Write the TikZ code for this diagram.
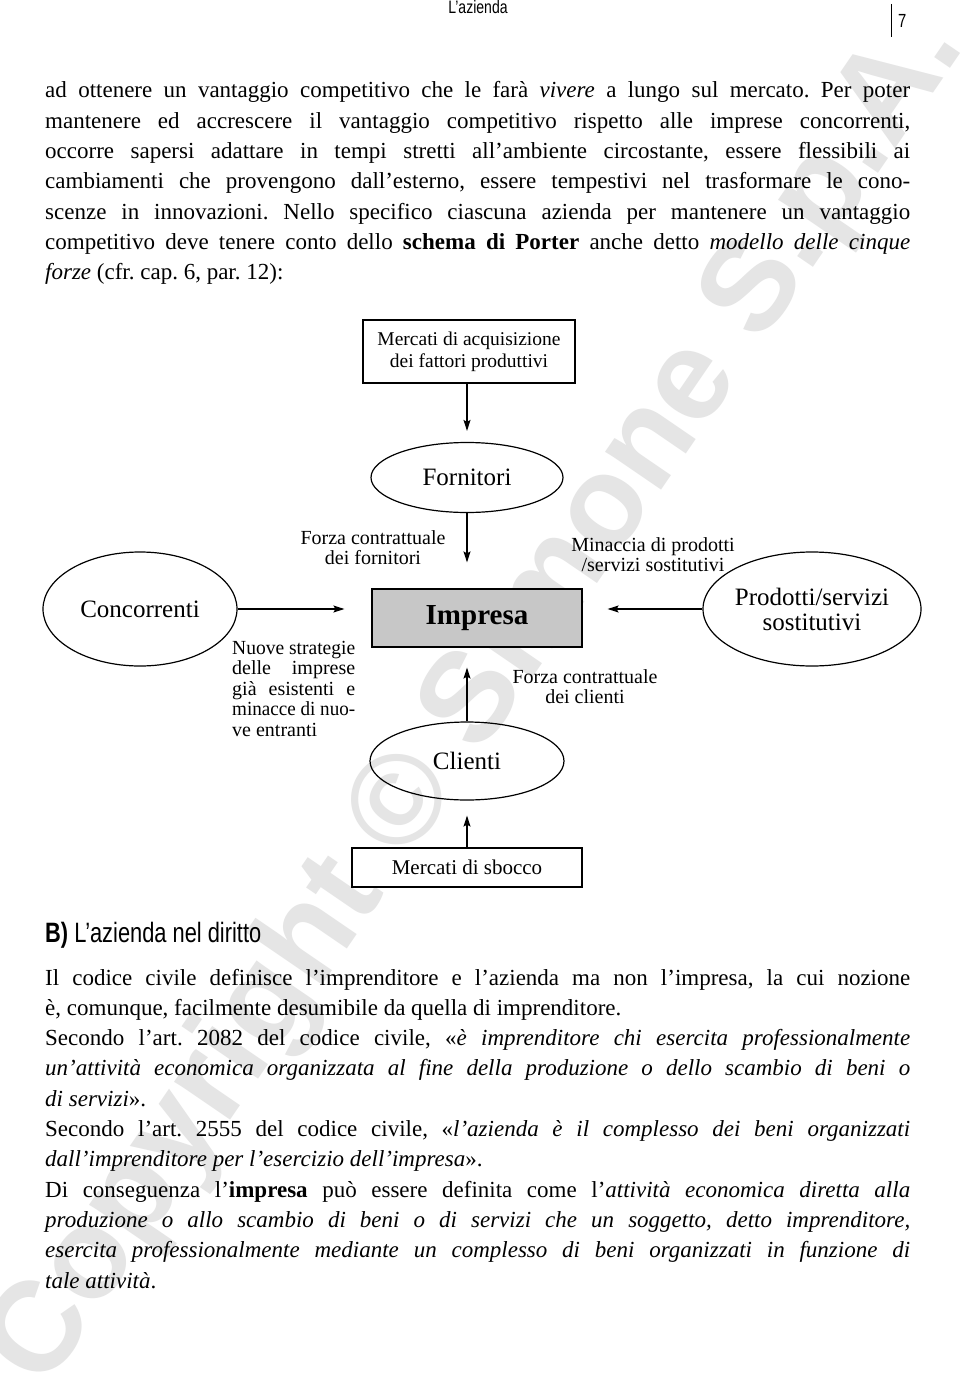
\documentclass[tikz,border=0pt]{standalone}
\usepackage{fontspec}
\usepackage{graphicx}
\setmainfont{Liberation Serif}
\newfontfamily\hdrfont[FakeStretch=0.78]{Liberation Sans}
\newfontfamily\wmfont{Liberation Sans}
\usetikzlibrary{shapes.geometric,arrows.meta}
\newsavebox\jbox
\newcommand\jline[2][865pt]{\sbox\jbox{#2}\ifdim\wd\jbox>#1\relax\resizebox{#1}{\height}{\usebox\jbox}\else\makebox[#1][s]{#2}\fi}
\frenchspacing
\begin{document}
\frenchspacing
\begin{tikzpicture}[x=1pt,y=-1pt,
  body/.style={font=\frenchspacing\fontsize{23}{28}\selectfont, inner sep=0pt, anchor=base west},
  boxnode/.style={draw, line width=1.2pt, rectangle, inner sep=0pt, align=center},
  ell/.style={draw, line width=1.2pt, ellipse, inner sep=0pt, align=center, font=\fontsize{25}{25}\selectfont},
  lbl/.style={inner sep=0pt, align=center, font=\fontsize{20}{20}\selectfont},
  arr/.style={line width=1.2pt, -{Stealth[length=11pt,width=7pt,inset=2pt]}}
]
\useasboundingbox (0,0) rectangle (960,1394);
\fill[white] (0,0) rectangle (960,1394);
% watermark
\node[rotate=55.6, text=black!10, font=\wmfont\bfseries\fontsize{128}{128}\selectfont, inner sep=0pt] (wm) at (478,700) {Copyright © Simone S.p.A.};
% header
\node[inner sep=0pt, anchor=base, font=\hdrfont\fontsize{18}{18}\selectfont] (hdr) at (478,14) {L’azienda};
\coordinate (bartop) at (891,4);
\coordinate (barbot) at (891,37);
\draw[line width=1pt] (bartop) -- (barbot);
\node[inner sep=0pt, anchor=base west, font=\hdrfont\fontsize{19}{19}\selectfont] (pg) at (898,28) {7};
% upper paragraph
\node[body] (a1) at (45,98) {\jline{ad ottenere un vantaggio competitivo che le farà \textit{vivere} a lungo sul mercato. Per poter}};
\node[body] (a2) at (45,128.3) {\jline{mantenere ed accrescere il vantaggio competitivo rispetto alle imprese concorrenti,}};
\node[body] (a3) at (45,158.6) {\jline{occorre sapersi adattare in tempi stretti all’ambiente circostante, essere flessibili ai}};
\node[body] (a4) at (45,188.9) {\jline{cambiamenti che provengono dall’esterno, essere tempestivi nel trasformare le cono-}};
\node[body] (a5) at (45,219.2) {\jline{scenze in innovazioni. Nello specifico ciascuna azienda per mantenere un vantaggio}};
\node[body] (a6) at (45,249.5) {\jline{competitivo deve tenere conto dello \textbf{schema di Porter} anche detto \textit{modello delle cinque}}};
\node[body] (a7) at (45,279.8) {\textit{forze} (cfr. cap. 6, par. 12):};
% diagram
\node[boxnode, minimum width=212pt, minimum height=63pt, font=\fontsize{19.5}{22}\selectfont] (macq) at (469,351.5) {Mercati di acquisizione\\dei fattori produttivi};
\node[ell, minimum width=192pt, minimum height=70pt] (forn) at (467,477.5) {Fornitori};
\node[boxnode, fill=black!22, minimum width=210pt, minimum height=58pt, font=\bfseries\fontsize{29}{29}\selectfont] (imp) at (477,618) {Impresa};
\node[ell, minimum width=194pt, minimum height=114pt] (conc) at (140,609) {Concorrenti};
\node[ell, minimum width=194pt, minimum height=114pt] (prod) at (812,609) {Prodotti/servizi\\sostitutivi};
\node[ell, minimum width=194pt, minimum height=78pt] (cli) at (467,761) {Clienti};
\node[boxnode, minimum width=230pt, minimum height=39pt, font=\fontsize{21}{21}\selectfont] (msb) at (467,867.5) {Mercati di sbocco};
% arrows
\draw[arr, shorten >=11pt] (forn.north |- macq.south) -- (forn.north);
\draw[arr, shorten >=26pt] (forn.south) -- (forn.south |- imp.north);
\draw[arr, shorten >=20pt] (cli.north) -- (cli.north |- imp.south);
\draw[arr, shorten >=15pt] (msb.north -| cli.south) -- (cli.south);
\draw[arr, shorten >=27pt] (conc.east) -- (conc.east -| imp.west);
\draw[arr, shorten >=25pt] (prod.west) -- (prod.west -| imp.east);
% labels
\node[lbl] (lfor) at (373,548) {Forza contrattuale\\dei fornitori};
\node[lbl] (lmin) at (653,555) {Minaccia di prodotti\\/servizi sostitutivi};
\node[lbl] (lcli) at (585,687) {Forza contrattuale\\dei clienti};
\node[lbl, anchor=base west] (n1) at (232,654) {\jline[123pt]{Nuove strategie}};
\node[lbl, anchor=base west] (n2) at (232,674.5) {\jline[123pt]{delle imprese}};
\node[lbl, anchor=base west] (n3) at (232,695) {\jline[123pt]{già esistenti e}};
\node[lbl, anchor=base west] (n4) at (232,715.5) {\jline[123pt]{minacce di nuo-}};
\node[lbl, anchor=base west] (n5) at (232,736) {ve entranti};
% heading B
\node[inner sep=0pt, anchor=base west, font=\hdrfont\fontsize{28}{28}\selectfont] (hb) at (45,942) {\textbf{B)} L’azienda nel diritto};
% lower paragraph
\node[body] (b1) at (45,985) {\jline{Il codice civile definisce l’imprenditore e l’azienda ma non l’impresa, la cui nozione}};
\node[body] (b2) at (45,1015.3) {è, comunque, facilmente desumibile da quella di imprenditore.};
\node[body] (b3) at (45,1045.6) {\jline{Secondo l’art. 2082 del codice civile, «\textit{è imprenditore chi esercita professionalmente}}};
\node[body] (b4) at (45,1075.9) {\jline{\textit{un’attività economica organizzata al fine della produzione o dello scambio di beni o}}};
\node[body] (b5) at (45,1106.2) {\textit{di servizi}».};
\node[body] (b6) at (45,1136.5) {\jline{Secondo l’art. 2555 del codice civile, «\textit{l’azienda è il complesso dei beni organizzati}}};
\node[body] (b7) at (45,1166.8) {\textit{dall’imprenditore per l’esercizio dell’impresa}».};
\node[body] (b8) at (45,1197.1) {\jline{Di conseguenza l’\textbf{impresa} può essere definita come l’\textit{attività economica diretta alla}}};
\node[body] (b9) at (45,1227.4) {\jline{\textit{produzione o allo scambio di beni o di servizi che un soggetto, detto imprenditore,}}};
\node[body] (b10) at (45,1257.7) {\jline{\textit{esercita professionalmente mediante un complesso di beni organizzati in funzione di}}};
\node[body] (b11) at (45,1288) {\textit{tale attività}.};
\end{tikzpicture}
\end{document}
